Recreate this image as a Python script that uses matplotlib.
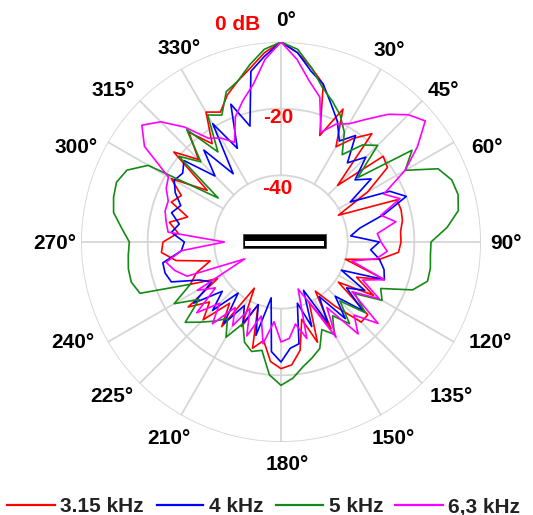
import numpy as np
import matplotlib
matplotlib.use("Agg")
import matplotlib.pyplot as plt
from matplotlib.patches import Rectangle
from matplotlib.lines import Line2D

plt.rcParams['font.family'] = ['Liberation Sans', 'DejaVu Sans']

# ---------------- data ----------------
angles_deg = list(range(0, 360, 5))

series_labels = ["3.15 kHz", "4 kHz", "5 kHz", "6,3 kHz"]
series_colors = ["#ff0000", "#0000ff", "#138a13", "#ff00ff"]

db_3150 = [0, -3, -7, -11, -26, -16, -27, -22, -17.6, -36, -20, -21, -30, -41, -23, -22.7,
           -23, -24, -24, -24.6, -30, -40, -27, -35, -28, -39, -26, -26, -35, -42, -30, -40,
           -28, -36, -27, -23, -22, -24, -30, -27, -40, -32, -44, -29, -36, -27, -32, -26,
           -38, -30, -33, -38, -28, -24, -24.6, -29, -26, -31, -25, -27, -22, -33, -18, -25,
           -17, -24, -15, -17, -13, -10, -7, -3]
db_4000 = [0, -3, -8, -11, -16, -20, -25, -21, -29, -24, -31, -27, -36, -24, -20, -28,
           -36, -39, -30.5, -33, -30, -28, -27, -40, -31, -36, -28, -37, -30, -40, -32, -44,
           -33, -41, -29, -28, -24, -27, -43, -31, -40, -33, -38, -30, -40, -31, -37, -28,
           -36, -33, -25, -24, -24, -30, -31, -27, -29, -26, -28, -25, -23, -24, -22, -32,
           -24, -35, -19, -29, -16, -24, -8, -4]
db_5000 = [0, -2, -7, -12, -15, -18, -22, -28, -22, -19, -30, -12, -17, -8, -5.5, -5,
           -6, -10, -15, -15, -14.5, -14.5, -18, -27, -25, -33, -27, -35, -28, -33, -28, -31,
           -26, -24, -22, -19, -17, -20, -27, -26, -28, -33, -27, -32, -29, -26, -22.5, -30,
           -23, -30, -15, -13.5, -13.5, -14, -14.5, -12, -9, -8, -7.5, -9, -14, -37,
           -20, -26, -16, -27, -16, -18, -12, -10, -6, -2]
db_6300 = [0, -5, -11, -15, -25, -21, -19, -15, -10, -6, -3.5, -10, -17, -26, -22, -29,
           -25, -31, -30, -28, -31, -38, -27, -33, -26, -34, -22, -29, -24, -36, -27, -40,
           -45, -30, -35, -31, -30, -36, -29, -37, -30, -38, -31, -36, -28, -34, -27, -36,
           -31, -48, -30, -27, -25, -30, -43, -26, -25, -24, -24, -22, -21, -10, -5.5, -9,
           -15, -22, -24, -27, -20, -16, -12, -5]
series_values = [db_3150, db_4000, db_5000, db_6300]

ring_levels = [-40, -20, 0]
ring_labels = ["-40", "-20", "0 dB"]
angle_ticks = [0, 30, 45, 60, 90, 120, 135, 150, 180, 210, 225, 240, 270, 300, 315, 330]
angle_tick_labels = [f"{a}°" for a in angle_ticks]

# ---------------- figure ----------------
W, H = 533, 515
fig = plt.figure(figsize=(W / 100, H / 100), dpi=100)
fig.patch.set_facecolor("white")

def px(x, y):
    return (x / W, 1 - y / H)

cx, cy, R = 281, 242, 200
ax = fig.add_axes([(cx - R) / W, 1 - (cy + R) / H, 2 * R / W, 2 * R / H], projection="polar")
ax.set_theta_zero_location("N")
ax.set_theta_direction(-1)
ax.set_rlim(-60, 0)
ax.grid(False)
ax.set_xticks([])
ax.set_yticks([])
ax.spines["polar"].set_visible(False)
ax.set_facecolor("white")

grid_col = "#d6d6d6"
full = np.linspace(0, 2 * np.pi, 721)
for lvl in ring_levels:
    ax.plot(full, np.full_like(full, lvl), color=grid_col, lw=1.3, zorder=1)
for a in angle_ticks:
    ax.plot([np.deg2rad(a)] * 2, [-40, 0], color=grid_col, lw=1.3, zorder=1)

# data curves
th = np.deg2rad(np.array(angles_deg + [angles_deg[0]]))
for vals, col, lab in zip(series_values, series_colors, series_labels):
    v = np.array(vals + [vals[0]], dtype=float)
    ax.plot(th, v, color=col, lw=1.2, zorder=3, label=lab)

# ring labels
txt_kw = dict(color="#ff0000", fontweight="bold", fontsize=15, ha="center", va="center")
fig.text(*px(277, 189), ring_labels[0], **txt_kw)
fig.text(*px(278, 118), ring_labels[1], **txt_kw)
fig.text(*px(238, 25), ring_labels[2], **txt_kw)

# angle labels
label_pos = {0: (286, 21), 30: (389, 50), 45: (443, 90), 60: (487, 148), 90: (506, 243),
             120: (490, 343), 135: (451, 397), 150: (393, 438), 180: (287, 464),
             210: (169, 438), 225: (112, 397), 240: (73, 343), 270: (55, 244),
             300: (76, 148), 315: (113, 90), 330: (179, 48)}
for a, t in zip(angle_ticks, angle_tick_labels):
    fig.text(*px(*label_pos[a]), t, color="black", fontweight="bold", fontsize=15,
             ha="center", va="center")

# speaker bar symbol
x0, y0, x1, y1 = 243, 234, 326, 248
fig.add_artist(Rectangle(px(x0, y1), (x1 - x0) / W, (y1 - y0) / H, transform=fig.transFigure,
                         facecolor="black", edgecolor="#444444", lw=0.6, zorder=10))
fig.add_artist(Rectangle(px(x0 + 2, y1 - 1.5), (x1 - x0 - 4) / W, 5.5 / H, transform=fig.transFigure,
                         facecolor="white", edgecolor="none", zorder=11))

# legend (manual)
leg_lines = [(7, 55, 60), (157, 203, 209), (276, 323, 329), (395, 443, 448)]
for (lx0, lx1, tx), col, lab in zip(leg_lines, series_colors, series_labels):
    fig.add_artist(Line2D([lx0 / W, lx1 / W], [1 - 505 / H] * 2, color=col, lw=1.6,
                          transform=fig.transFigure))
    fig.text(*px(tx, 507), lab, color="#222222", fontweight="bold", fontsize=15,
             ha="left", va="center")

fig.savefig("out.png", dpi=100, facecolor="white")
